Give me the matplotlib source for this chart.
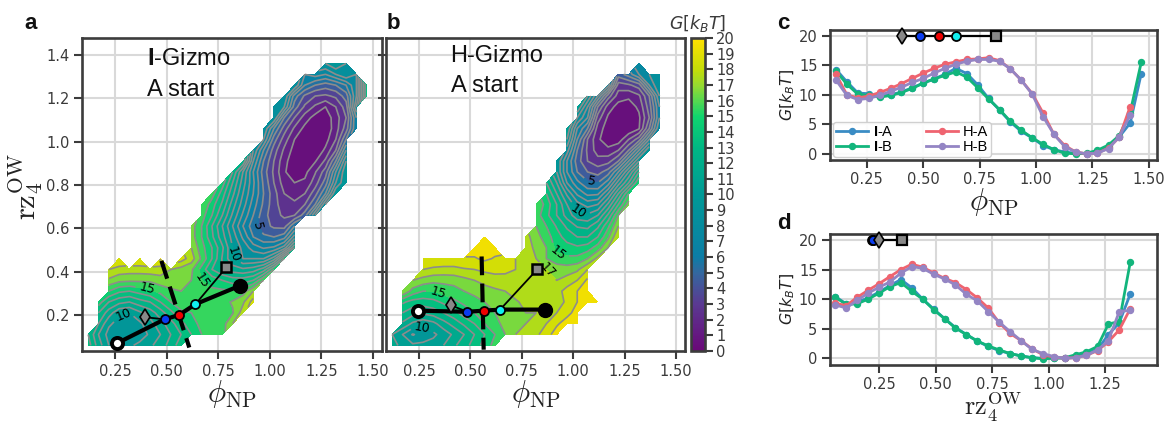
"""Free energy maps (a, b) and their 1D projections (c, d)."""

import numpy as np
import matplotlib
matplotlib.use("Agg")
import matplotlib.pyplot as plt
from matplotlib.cm import ScalarMappable
from matplotlib.colors import LinearSegmentedColormap, Normalize

n = np.nan

# --- 2D maps ----------------------------------------------------------------
phi_grid = [0.12 + 0.05 * i for i in range(28)]
rz_grid = [0.06 + 0.05 * j for j in range(27)]

start_a = [.12, .12, .17, .17, .17, .22, .22, .22, .27, .62, .62, .62, .67, .67,
           .72, .77, .82, .87, .92, .97, .97, 1.02, 1.02, 1.07, 1.12, 1.17, 1.27]
rows_a = [
    [13.5, 11.5, 10, 9.8, 9.8, 10.3, 10.8, 11.5, 12.4, 13.6],
    [13, 11, 9.6, 9.2, 9, 9.4, 10.2, 11, 12, 13, 14, 15, 15.4, 15.6],
    [12, 10.2, 9.6, 9.4, 9.8, 10.6, 11.6, 12.6, 13.7, 14.6, 15.3, 15.4, 15.5, 17],
    [13, 11.5, 10.2, 10, 10.8, 11.5, 12.5, 13.7, 14.8, 15, 15.3, 15.5, 15.6, 15.9, 17.5],
    [14.5, 13, 12.3, 12, 12.6, 13, 14, 15, 15.6, 15.4, 15.4, 15.5, 15.7, 16.1, 16.8, 18.5],
    [15, 14.2, 14, 14.4, 14.8, 15.3, 15.8, 16, 15.8, 15.4, 15.2, 15.2, 15.2, 15.5, 17],
    [16.8, 16.3, 16.2, 16.2, 16.2, 16.6, 16.6, 16.5, 16, 15, 14.6, 14, 13.5, 13.5, 14, 16],
    [18, 17.6, 17.5, 17.5, 17.6, 17.5, 17, 16.6, 16.2, 14.6, 13, 12, 11.5, 11.2, 11.5, 12.5, 15],
    [19, n, 19, n, 19.2, n, 18.5, 17.5, 15.8, 14, 11.9, 10.2, 9, 9, 9, 10.5, 14],
    [17, 15.4, 14, 12.2, 10, 8.7, 7.5, 6.9, 7.2, 8.5, 12],
    [16.5, 15, 13.2, 11.4, 9.6, 7.8, 6, 5.2, 5, 5.6, 8.5],
    [16.5, 15, 13, 11, 9, 7, 5.4, 4.4, 3.8, 3.6, 6],
    [15.5, 14, 12, 9.8, 7.8, 6, 4.4, 3.4, 2.8, 3, 4.5, 8],
    [16, 14.5, 12.8, 10.5, 8.5, 6.5, 4.8, 3.4, 2.4, 2.2, 3, 5, 9],
    [15.5, 13.5, 11.3, 9, 7, 5, 3.4, 2, 1.6, 2, 3.6, 6, 10],
    [14.5, 12, 9.5, 7.2, 4.8, 3, 1.5, 1, 1.2, 2.5, 4.5, 8, 10],
    [13, 10, 7, 4.5, 2.8, 1.1, .5, .7, 1.9, 3.5, 7, 10],
    [13, 8, 5, 3, 1.3, .4, .2, .9, 2.2, 5, 9],
    [9, 6, 3.5, 1.8, .6, .1, .2, 1.2, 3, 7],
    [8, 4.5, 2.5, 1, .3, .1, .6, 2, 5],
    [9, 6, 3.5, 1.8, .7, .2, .3, 1.5, 3.5, 7],
    [9, 5, 3, 1.5, .6, .4, 1.5, 3, 7],
    [9, 8, 4.5, 2.8, 1.8, 1, 2, 3.5, 9],
    [9, 5.5, 3.8, 3, 2.8, 3.2, 4.5, 8, 14],
    [9, 6, 5, 4.5, 5, 6, 8, 14],
    [7, 7.5, 7, 8, 9, 8],
    [9, 10, 9],
]

start_b = [.12, .12, .17, .17, .17, .17, .22, .27, .27, .52, .57, .82, .82, .82,
           .87, .87, .92, .92, .97, .97, .97, 1.02, 1.02, 1.07, 1.17, 1.22, 1.32]
rows_b = [
    [11.5, 10.6, 10.2, 10.2, 10.4, 11, 11.8, 12.6, 13.4, 14.4, 15.4],
    [11, 10, 8.9, 9.5, 9.8, 10.4, 11.2, 12, 13, 14, 15, 16, 17, 17.2, 17.8, 18.5, 19.6],
    [11.8, 10.8, 10.3, 10.7, 11.6, 12.4, 13.2, 14, 15, 15.8, 16.2, 16.8, 17, 17.3, 18, 18.8, 19.6, 19.6],
    [13, 12.4, 12.2, 12.5, 13, 13.6, 14.5, 15, 15.6, 16, 16.5, 16.8, 17, 17, 17.5, 18, 18.6, 19.5],
    [14.2, 13.6, 13.5, 13.7, 14.2, 14.8, 15.2, 15.5, 16, 16.2, 16.5, 16.9, 17.2, 17.2, 17, 17.5, 18.2, 19, 19.5, 19.5],
    [17, 15.6, 15, 15, 15.4, 15.6, 16, 16.4, 16.5, 16.8, 17, 17.3, 17.6, 17.5, 17.4, 17.6, 18.4, 19, 19.3],
    [17, 16.6, 16.3, 16.3, 16.4, 16.7, 17, 17.4, 17.6, 17.7, 17.6, 17.5, 17.4, 17.2, 17, 17.4, 18, 19.2],
    [18, 17.8, 17.7, 17.7, 17.9, 18, 18.2, 18.3, 18.2, 18, 17.8, 17.4, 17, 16.6, 16.5, 16.8, 18],
    [18.8, 18.8, 18.8, 18.8, 18.9, 18.9, 19.2, 18.9, 18.8, 18, 17.5, 17, 16, 15.4, 15.2, 15.3, 16, 17.3],
    [19.5, 19.3, 19.4, n, n, 17.4, 16.8, 16, 14.7, 14.4, 14.2, 14.5, 15.5, 17],
    [19.5, n, n, n, 17.4, 16.4, 15.5, 14.4, 13.6, 13, 13, 14, 15.8, 18],
    [16, 15, 13.9, 12.8, 11.9, 11.7, 12.8, 14.8, 17],
    [15.5, 14.3, 13, 11.6, 10.4, 10.2, 11, 13.2, 16],
    [16, 14.6, 13, 11, 9.4, 8.6, 9, 11.2, 14, 16.5],
    [14, 12, 9.8, 7.8, 6.7, 6.8, 9, 12, 15],
    [13, 11, 8, 6.3, 5.2, 5, 6.5, 9.5, 12, 15],
    [10, 7, 5, 4, 3.6, 4.5, 7, 10, 13],
    [10, 7, 4.5, 3, 2.4, 2.6, 4, 7, 10],
    [8.5, 5, 2.8, 1.5, 1.3, 2, 4, 7, 10],
    [10, 6, 3, 1.2, .3, .4, 2, 3.5, 7],
    [11, 7, 5, 1.5, .5, .1, .1, .9, 4, 8],
    [9, 7, 2.5, .8, .2, .2, .8, 3, 7],
    [11, 8, 4, 1.5, .6, .5, 1.2, 3.5, 7],
    [10, 7, 3.5, 1.5, 1.2, 1.8, 4, 8],
    [7.5, 2.5, 2.8, 3.5, 7, 9],
    [4.5, 5.5, 7, 8, 9],
    [8],
]

# --- string method paths: start, blue, red, cyan, end ------------------------
path_phi_a = [.26, .49, .56, .64, .855]
path_rz_a = [.07, .18, .20, .25, .335]
path_phi_b = [.245, .485, .565, .645, .865]
path_rz_b = [.22, .215, .22, .225, .225]
diamond_a, square_a = (.395, .19), (.79, .42)
diamond_b, square_b = (.405, .245), (.825, .41)
divide_phi_a, divide_rz_a = [.475, .61], [.45, .05]
divide_phi_b, divide_rz_b = [.555, .565], [.47, .04]

label_levels_a = [5, 10, 15]
label_pos_a = [(.93, .61), (.807, .477), (.29, .2), (.41, .335), (.67, .36)]
label_levels_b = [5, 10, 15, 17]
label_pos_b = [(1.09, .823), (1.03, .69), (.268, .135), (.35, .323), (.925, .485), (.877, .405)]

# --- 1D projections ---------------------------------------------------------
phi_c = [.114, .162, .211, .259, .307, .356, .404, .452, .501, .549, .597, .645, .694, .742, .790,
         .839, .887, .935, .984, 1.032, 1.08, 1.128, 1.177, 1.225, 1.273, 1.322, 1.37, 1.418, 1.467]
ia_c = [14.3, 12.2, 10.3, 10.2, 9.8, 10, 10.5, 11.2, 12, 12.7, 13.5, 14.5, 13.6, 11.7, 9.4,
        7.4, 5.4, 3.8, 2.7, 1.4, .7, .3, .1, 0, .4, 1.2, 2.9, 5.2, 13.6]
ib_c = [14, 11.8, 10.1, 9.9, 9.6, 9.9, 10.4, 11.1, 12, 12.7, 13.3, 13.9, 13, 11.2, 9.3,
        7.5, 5.5, 4, 2.7, 1.6, .7, .1, 0, .1, .6, 1.5, 3.1, 7, 15.5]
ha_c = [13.5, 10, 9.5, 9.8, 10.4, 11.1, 11.9, 12.8, 13.7, 14.5, 15.2, 15.6, 16, 16.1, 16.3,
        15.8, 14.4, 12.5, 10.2, 6.9, 3.3, 1.4, .3, 0, .1, 1, 2.8, 8, n]
hb_c = [12.5, 9.9, 9.2, 9.4, 9.9, 10.6, 11.3, 12.1, 12.8, 13.7, 14.5, 15.2, 15.7, 16, 16,
        15.7, 14.4, 12.5, 10.1, 6.3, 3.3, 1.2, .3, 0, .1, .9, 2.9, 6.6, n]

rz_d = [.057, .105, .153, .202, .25, .298, .347, .395, .443, .492, .54, .588, .637, .685,
        .733, .782, .83, .878, .927, .975, 1.023, 1.072, 1.12, 1.168, 1.217, 1.265, 1.313, 1.362]
ia_d = [10.4, 9.2, 9.5, 10.2, 11.2, 12.3, 13.3, 11.9, 10, 8.3, 6.7, 5.2, 4, 2.9,
        2, 1.3, .8, .4, .1, 0, .1, 0, .3, .8, 1.5, 4, 6, 10.9]
ib_d = [10.3, 9.1, 9.2, 10, 11, 12.1, 12.8, 11.3, 10, 8.2, 6.7, 5.1, 4, 2.9,
        2.1, 1.4, .8, .4, .1, -.1, 0, .1, .6, 1.1, 2, 5.8, 6.2, 16.3]
ha_d = [9.3, 8.9, 10.3, 11.5, 12.6, 13.8, 15, 15.9, 15.4, 14.4, 13.5, 12.8, 11.6, 10.2,
        8.5, 6, 4.2, 3, 1.6, .6, .2, 0, .1, .5, 1.3, 2.8, 4.8, 8.4]
hb_d = [9, 8.5, 9.8, 11, 12, 12.9, 14.4, 15.5, 15.2, 14.2, 13.4, 12.4, 10.8, 9.7,
        7.9, 6.1, 4.5, 3, 1.5, .8, .3, 0, .1, .5, 1.4, 3, 7.9, 8.1]
series_names = ["I-A", "I-B", "H-A", "H-B"]

# marker strip along G = 20: diamond, blue, red, cyan, square
strip_c = [.405, .485, .57, .645, .825]
strip_d = [.25, .225, .22, .225, .35]
strip_g = 20

plt.rcParams["font.family"] = ["DejaVu Sans"]
plt.rcParams["mathtext.fontset"] = "custom"
plt.rcParams["mathtext.rm"] = "Liberation Sans"
plt.rcParams["mathtext.bf"] = "Liberation Sans:bold"

W, H = 1165, 422
DARK = "#3c3c3c"
TICK = "#3a3a3a"
GRID = "#d9d9d9"
BLUE, RED, CYAN = "#0a3cf0", "#f00000", "#10f0f0"
LINE_COLORS = ["#3a8cc4", "#12b57c", "#ef6470", "#9485c4"]

cmap = LinearSegmentedColormap.from_list("g", [
    (0 / 20, "#6a0878"), (3 / 20, "#5a3a92"), (5 / 20, "#33689f"), (6 / 20, "#0c7da6"),
    (10 / 20, "#009a96"), (13 / 20, "#00b784"), (15 / 20, "#10d46e"), (16 / 20, "#55d850"),
    (17 / 20, "#96da30"), (18 / 20, "#c4dd08"), (20 / 20, "#ffe000")])
norm = Normalize(0, 20)
levels = list(range(21))


def axes_px(fig, left, top, right, bottom):
    return fig.add_axes([left / W, 1 - bottom / H, (right - left) / W, (bottom - top) / H])


def style(ax):
    for s in ax.spines.values():
        s.set_color(DARK)
        s.set_linewidth(1.9)
    ax.tick_params(length=6, width=1.5, color=DARK, labelsize=10.5, labelcolor=TICK, pad=3)
    ax.grid(True, color=GRID, lw=1.5)
    ax.set_axisbelow(True)


def build_grid(starts, rows):
    g = np.full((len(rz_grid), len(phi_grid)), np.nan)
    for j, (s, r) in enumerate(zip(starts, rows)):
        i = int(round((s - phi_grid[0]) / 0.05))
        g[j, i:i + len(r)] = r
    return np.ma.masked_invalid(g)


def draw_map(ax, starts, rows, lab_levels, lab_pos, path_phi, path_rz, diamond, square, div_phi, div_rz):
    g = build_grid(starts, rows)
    ax.contourf(phi_grid, rz_grid, g, levels=levels, cmap=cmap, norm=norm)
    plain = [lv for lv in levels if lv not in lab_levels]
    ax.contour(phi_grid, rz_grid, g, levels=plain, colors="#8c8c8c", linewidths=1.2)
    cs = ax.contour(phi_grid, rz_grid, g, levels=lab_levels, colors="#8c8c8c", linewidths=1.2)
    ax.clabel(cs, manual=lab_pos, fmt="%d", fontsize=9, colors="k", inline=True)

    ax.plot(div_phi, div_rz, color="k", lw=3, ls=(0, (4.5, 2)), zorder=4)
    ax.plot([diamond[0], path_phi[1]], [diamond[1], path_rz[1]], color="k", lw=1.3, zorder=5)
    ax.plot([path_phi[3], square[0]], [path_rz[3], square[1]], color="k", lw=1.3, zorder=5)
    ax.plot(path_phi, path_rz, color="k", lw=3, zorder=5)
    ax.plot(*diamond, "d", ms=8.5, mfc="#888888", mec="k", mew=1.2, zorder=6)
    ax.plot(*square, "s", ms=7, mfc="#888888", mec="k", mew=1.8, zorder=6)
    ax.plot(path_phi[0], path_rz[0], "o", ms=8, mfc="white", mec="k", mew=2.8, zorder=6)
    ax.plot(path_phi[4], path_rz[4], "o", ms=10, mfc="k", mec="k", zorder=6)
    for k, c in zip([1, 2, 3], [BLUE, RED, CYAN]):
        ax.plot(path_phi[k], path_rz[k], "o", ms=6.5, mfc=c, mec="k", mew=1.3, zorder=7)

    ax.set_xlim(.09, 1.544)
    ax.set_ylim(.034, 1.48)
    ax.set_xticks([.25, .5, .75, 1, 1.25, 1.5])
    ax.set_xticklabels(["0.25", "0.50", "0.75", "1.00", "1.25", "1.50"])
    ax.set_yticks([.2, .4, .6, .8, 1, 1.2, 1.4])
    ax.set_xlabel(r"$\phi_{\mathrm{NP}}$", fontsize=22, math_fontfamily="cm", labelpad=0, color="#222222")


def draw_strip(ax, strip):
    ax.plot(strip, [strip_g] * 5, color="k", lw=1.6, zorder=5, clip_on=False)
    for k, c in [(3, CYAN), (2, RED), (1, BLUE)]:
        ax.plot(strip[k], strip_g, "o", ms=6.5, mfc=c, mec="k", mew=1.3, zorder=6, clip_on=False)
    ax.plot(strip[0], strip_g, "d", ms=8.5, mfc="#888888", mec="k", mew=1.2, zorder=6, clip_on=False)
    ax.plot(strip[4], strip_g, "s", ms=7, mfc="#888888", mec="k", mew=1.6, zorder=6, clip_on=False)


def draw_lines(ax, xs, series):
    for g, name, c in zip(series, series_names, LINE_COLORS):
        label = name.replace("I-", r"$\mathbf{I}$-")
        ax.plot(xs, g, "-o", color=c, lw=2, ms=4.3, label=label)
    ax.set_ylim(-1.05, 21)
    ax.set_yticks([0, 5, 10, 15, 20])
    ax.set_ylabel(r"$G[k_BT]$", fontsize=11.3, math_fontfamily="dejavusans", labelpad=1, color="#222222")


fig = plt.figure(figsize=(W / 100, H / 100), dpi=100)

ax_a = axes_px(fig, 82, 37.5, 382, 351)
style(ax_a)
draw_map(ax_a, start_a, rows_a, label_levels_a, label_pos_a, path_phi_a, path_rz_a,
         diamond_a, square_a, divide_phi_a, divide_rz_a)
ax_a.set_ylabel(r"$\mathrm{rz}_4^{\mathrm{OW}}$", fontsize=22, math_fontfamily="cm", color="#222222")
ax_a.yaxis.set_label_coords(-.123, .526)
ax_a.text(.405, 1.354, r"$\mathbf{I}$-Gizmo", fontsize=17, family="Liberation Sans", color="#111111")
ax_a.text(.405, 1.21, "A start", fontsize=17, family="Liberation Sans", color="#111111")

ax_b = axes_px(fig, 386, 37.5, 685, 351)
style(ax_b)
draw_map(ax_b, start_b, rows_b, label_levels_b, label_pos_b, path_phi_b, path_rz_b,
         diamond_b, square_b, divide_phi_b, divide_rz_b)
ax_b.tick_params(axis="y", labelleft=False)
ax_b.text(.404, 1.369, "H-Gizmo", fontsize=17, family="Liberation Sans", color="#111111")
ax_b.text(.404, 1.23, "A start", fontsize=17, family="Liberation Sans", color="#111111")

cax = axes_px(fig, 691, 38, 705, 351)
cbar = fig.colorbar(ScalarMappable(norm=norm, cmap=cmap), cax=cax, ticks=levels)
cbar.outline.set_edgecolor(DARK)
cbar.outline.set_linewidth(1.9)
cax.tick_params(length=6, width=1.5, color=DARK, labelsize=10.5, labelcolor=TICK, pad=2)
fig.text(669 / W, 1 - 29 / H, r"$G[k_BT]$", fontsize=12.5, math_fontfamily="dejavusans", color=TICK)

ax_c = axes_px(fig, 830, 30, 1157, 160)
style(ax_c)
draw_lines(ax_c, phi_c, [ia_c, ib_c, ha_c, hb_c])
draw_strip(ax_c, strip_c)
ax_c.set_xlim(.087, 1.537)
ax_c.set_xticks([.25, .5, .75, 1, 1.25, 1.5])
ax_c.set_xticklabels(["0.25", "0.50", "0.75", "1.00", "1.25", "1.50"])
ax_c.set_xlabel(r"$\phi_{\mathrm{NP}}$", fontsize=22, math_fontfamily="cm", labelpad=-1, color="#222222")
ax_c.legend(loc="lower left", ncols=2, prop={"family": "Liberation Sans", "size": 10.5},
            borderaxespad=.2, handlelength=2.2, handletextpad=.35, columnspacing=2.2, labelspacing=.1,
            framealpha=.9, edgecolor="#cccccc", borderpad=.2)

ax_d = axes_px(fig, 830, 234, 1157, 364.5)
style(ax_d)
draw_lines(ax_d, rz_d, [ia_d, ib_d, ha_d, hb_d])
draw_strip(ax_d, strip_d)
ax_d.set_xlim(.033, 1.48)
ax_d.set_xticks([.25, .5, .75, 1, 1.25])
ax_d.set_xticklabels(["0.25", "0.50", "0.75", "1.00", "1.25"])
ax_d.set_xlabel(r"$\mathrm{rz}_4^{\mathrm{OW}}$", fontsize=19, math_fontfamily="cm", labelpad=-1.5, color="#222222")

for letter, px, py in [("a", 24, 29), ("b", 387, 29), ("c", 777, 29), ("d", 777, 229)]:
    fig.text(px / W, 1 - py / H, letter, fontsize=16, fontweight="bold", family="Liberation Sans", color="#111111")

fig.savefig("out.png", dpi=100)
print("wrote out.png")
